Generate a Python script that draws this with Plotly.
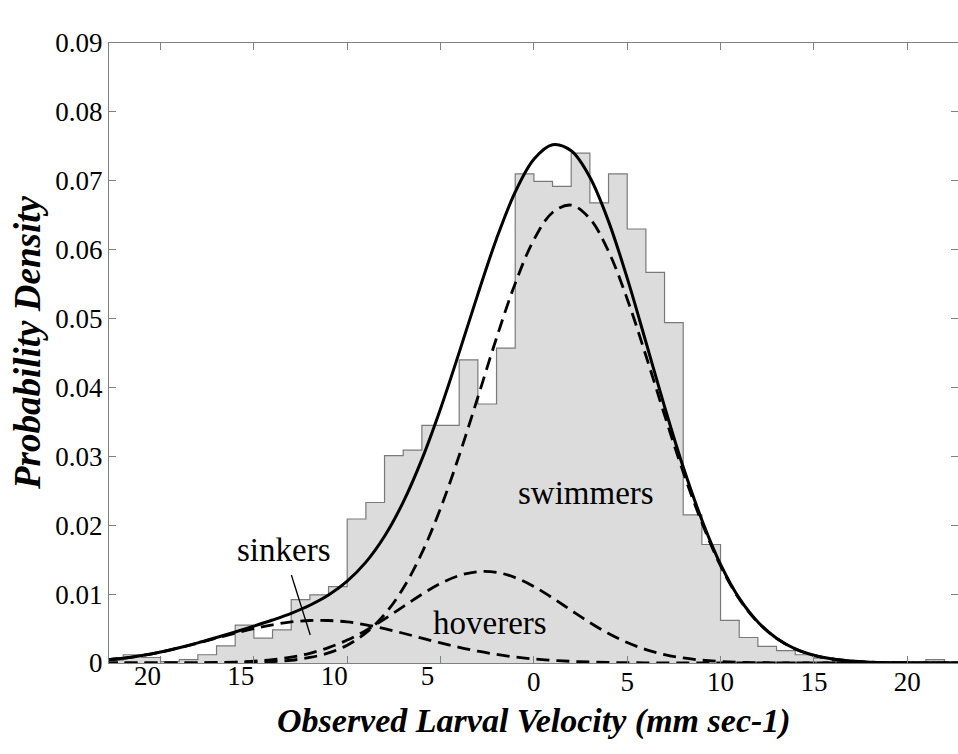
import plotly.graph_objects as go

# ---------------- data ----------------
# histogram: bin edges (mm/s, negative = downward / sinking) and probability density per bin
bin_edges = list(range(-23, 24))
density = [0.0004, 0.0012, 0.0008, 0.0002, 0.0005, 0.0012, 0.0025, 0.0055, 0.0036, 0.0048,
           0.0092, 0.0099, 0.0111, 0.0209, 0.0233, 0.0301, 0.0309, 0.0345, 0.0345, 0.0440,
           0.0376, 0.0457, 0.0710, 0.0699, 0.0692, 0.0740, 0.0668, 0.0710, 0.0630, 0.0567,
           0.0494, 0.0215, 0.0172, 0.0062, 0.0037, 0.0024, 0.0018, 0.0012, 0.0007, 0.0002,
           0.0, 0.0, 0.0, 0.0, 0.0005, 0.0]

# fitted curves
curve_x = list(range(-23, 24))
sinkers = [0.00045, 0.00070, 0.00108, 0.00158, 0.00220, 0.00288, 0.00361, 0.00432, 0.00498, 0.00555,
           0.00596, 0.00617, 0.00617, 0.00596, 0.00555, 0.00498, 0.00432, 0.00361, 0.00292, 0.00227,
           0.00171, 0.00124, 0.00087, 0.00059, 0.00038, 0.00024, 0.00015, 0.00008, 0.00005, 0.00003,
           0.00001, 0, 0, 0, 0, 0, 0, 0, 0, 0, 0, 0, 0, 0, 0, 0, 0]
hoverers = [0, 0, 0, 0.00001, 0.00002, 0.00003, 0.00007, 0.00014, 0.00027, 0.00049,
            0.00085, 0.00141, 0.00223, 0.00333, 0.00473, 0.00638, 0.00819, 0.00997, 0.01155, 0.01269,
            0.01326, 0.01316, 0.01240, 0.01111, 0.00945, 0.00764, 0.00587, 0.00428, 0.00297, 0.00195,
            0.00122, 0.00073, 0.00041, 0.00022, 0.00011, 0.00005, 0.00002, 0, 0, 0, 0, 0, 0, 0, 0, 0, 0]
swimmers = [0, 0, 0, 0, 0, 0.00001, 0.00002, 0.00004, 0.00010, 0.00020,
            0.00040, 0.00080, 0.00146, 0.00258, 0.00436, 0.00704, 0.01084, 0.01598, 0.02245, 0.03013,
            0.03858, 0.04719, 0.05510, 0.06143, 0.06540, 0.06647, 0.06450, 0.05975, 0.05285, 0.04463,
            0.03599, 0.02771, 0.02036, 0.01410, 0.00930, 0.00590, 0.00358, 0.00205, 0.00112, 0.00058,
            0.00028, 0.00012, 0.00005, 0.00002, 0, 0, 0]
total = [0.00045, 0.00070, 0.00108, 0.00159, 0.00222, 0.00292, 0.00370, 0.00450, 0.00535, 0.00624,
         0.00721, 0.00838, 0.00986, 0.01187, 0.01464, 0.01840, 0.02335, 0.02956, 0.03692, 0.04509,
         0.05355, 0.06159, 0.06837, 0.07313, 0.07523, 0.07435, 0.07052, 0.06411, 0.05587, 0.04661,
         0.03722, 0.02844, 0.02077, 0.01432, 0.00941, 0.00595, 0.00360, 0.00205, 0.00112, 0.00058,
         0.00028, 0.00012, 0.00005, 0.00002, 0, 0, 0]

x_tick_vals_neg = [-20, -15, -10, -5]
x_tick_text_neg = ["20", "15", "10", "5"]
x_tick_vals_pos = [0, 5, 10, 15, 20]
x_tick_text_pos = ["0", "5", "10", "15", "20"]
y_tick_vals = [0, 0.01, 0.02, 0.03, 0.04, 0.05, 0.06, 0.07, 0.08, 0.09]
y_tick_text = ["0", "0.01", "0.02", "0.03", "0.04", "0.05", "0.06", "0.07", "0.08", "0.09"]

# ---------------- figure ----------------
SERIF = "Liberation Serif, Times New Roman, serif"
AXC = "#808080"

step_x = [bin_edges[0]] + bin_edges[:-1] + [bin_edges[-1]]
step_y = [0] + density + [0]

fig = go.Figure()
fig.add_trace(go.Scatter(x=step_x, y=step_y, mode="lines", line_shape="hv",
                         line=dict(color="#7a7a7a", width=1.2), fill="tozeroy",
                         fillcolor="#dcdcdc", hoverinfo="skip", showlegend=False))

dash = "13px,7px"
for ys in (sinkers, hoverers, swimmers):
    fig.add_trace(go.Scatter(x=curve_x, y=ys, mode="lines", xaxis="x2",
                             line=dict(color="black", width=2.8, dash=dash, shape="spline"),
                             showlegend=False))
fig.add_trace(go.Scatter(x=curve_x, y=total, mode="lines", xaxis="x2",
                         line=dict(color="black", width=3, shape="spline"),
                         showlegend=False))

xr = [-22.76, 22.72]
xfont = dict(family=SERIF, size=27, color="black")
fig.update_layout(
    width=958, height=754,
    margin=dict(l=109, r=0, t=43, b=91),
    paper_bgcolor="white", plot_bgcolor="white",
    font=dict(family=SERIF, color="black"),
    xaxis=dict(range=xr, tickmode="array",
               tickvals=x_tick_vals_neg + x_tick_vals_pos,
               ticktext=[""] * len(x_tick_vals_neg) + x_tick_text_pos,
               ticks="inside", ticklen=7, tickcolor=AXC, tickwidth=1,
               showline=True, linecolor=AXC, linewidth=1.2, mirror="ticks",
               showgrid=False, zeroline=False, ticklabelstandoff=-6,
               tickfont=xfont),
    xaxis2=dict(range=xr, overlaying="x", matches="x", side="bottom",
                tickmode="array", tickvals=x_tick_vals_neg, ticktext=x_tick_text_neg,
                ticks="", showline=False, showgrid=False, zeroline=False,
                ticklabelshift=-13, ticklabelstandoff=-6,
                tickfont=xfont),
    yaxis=dict(range=[0, 0.09], tickmode="array", tickvals=y_tick_vals, ticktext=y_tick_text,
               ticks="inside", ticklen=7, tickcolor=AXC, tickwidth=1,
               showline=True, linecolor=AXC, linewidth=1.2, mirror="ticks",
               showgrid=False, zeroline=False,
               tickfont=dict(family=SERIF, size=27, color="black")),
)

ann_font = dict(family=SERIF, size=33, color="black")
fig.add_annotation(x=-13.41, y=0.0164, text="sinkers", showarrow=False, font=ann_font)
fig.add_annotation(x=-2.33, y=0.0058, text="hoverers", showarrow=False, font=ann_font)
fig.add_annotation(x=2.77, y=0.0247, text="swimmers", showarrow=False, font=ann_font)
fig.add_shape(type="line", x0=-12.99, y0=0.01278, x1=-11.98, y1=0.00407,
              line=dict(color="black", width=1.3))

fig.add_annotation(xref="paper", yref="paper", x=0.5, y=0, yshift=-58, yanchor="middle",
                   text="<b><i>Observed Larval Velocity (mm sec-1)</i></b>", showarrow=False,
                   font=dict(family=SERIF, size=34, color="black"))
fig.add_annotation(xref="paper", yref="paper", x=0, y=0.5, xshift=-82, yshift=10,
                   xanchor="center", yanchor="middle", textangle=-90,
                   text="<b><i>Probability Density</i></b>", showarrow=False,
                   font=dict(family=SERIF, size=37, color="black"))

fig.write_html("out.html")
